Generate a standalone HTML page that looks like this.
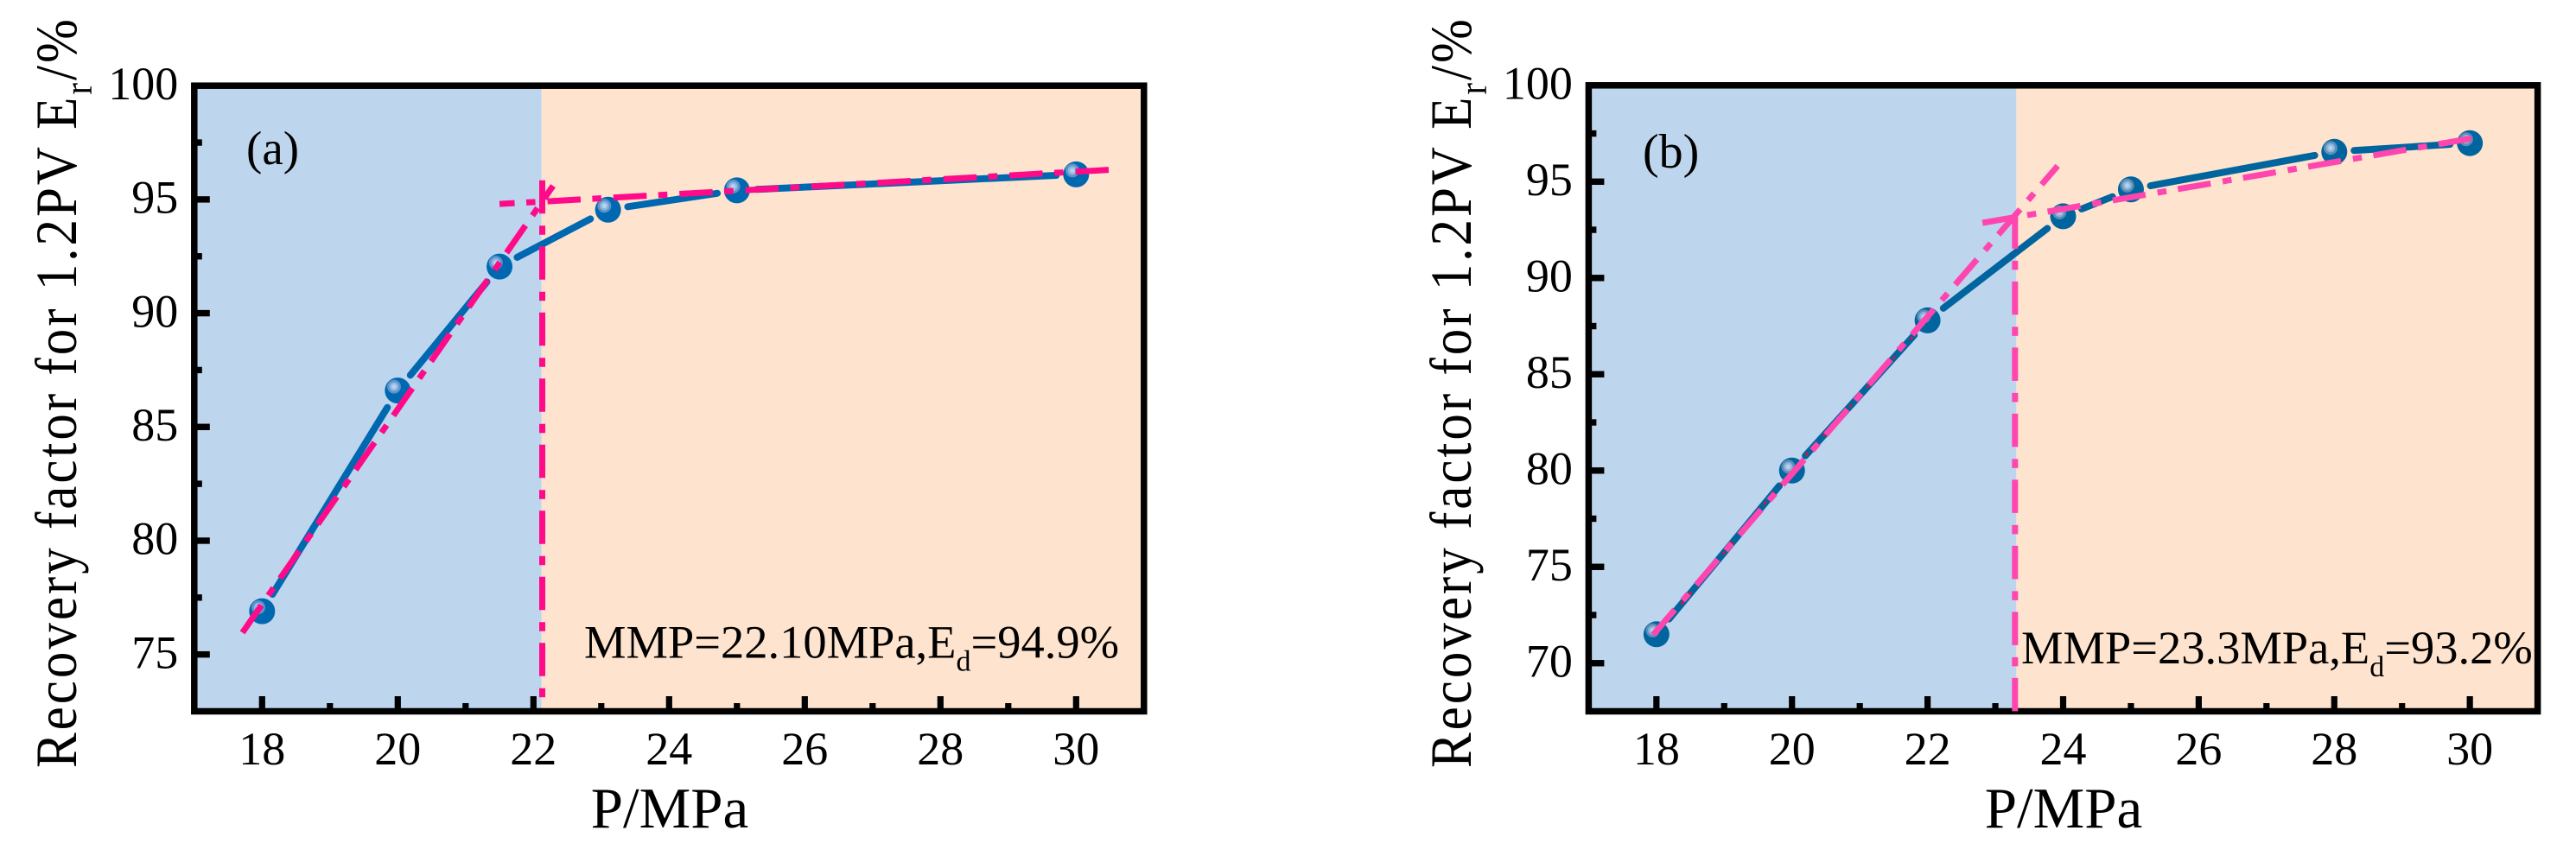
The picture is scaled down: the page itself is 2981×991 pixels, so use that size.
<!DOCTYPE html>
<html lang="en">
<head>
<meta charset="utf-8">
<title>Recovery factor vs pressure</title>
<style>
html,body{margin:0;padding:0;background:#fff;}
svg{display:block;}
text{font-family:"Liberation Serif","Times New Roman",serif;fill:#000;}
</style>
</head>
<body>
<svg id="figure" xmlns="http://www.w3.org/2000/svg" width="2981" height="991" viewBox="0 0 2981 991">
  <g id="panel-a"></g>
  <g id="panel-b"></g>

  <text transform="translate(88,889) rotate(-90) scale(1,1.115)" font-size="61" letter-spacing="3">Recovery factor for 1.2PV E<tspan font-size="41" dy="16">r</tspan><tspan dy="-16">/%</tspan></text>
  <text x="775" y="958" font-size="67" text-anchor="middle">P/MPa</text>
  <text x="285" y="190" font-size="55">(a)</text>
  <text x="676" y="761.5" font-size="54.5">MMP=22.10MPa,E<tspan font-size="34" dy="15">d</tspan><tspan dy="-15">=94.9%</tspan></text>

  <text transform="translate(1702,889) rotate(-90) scale(1,1.115)" font-size="61" letter-spacing="3">Recovery factor for 1.2PV E<tspan font-size="41" dy="16">r</tspan><tspan dy="-16">/%</tspan></text>
  <text x="2388" y="958" font-size="67" text-anchor="middle">P/MPa</text>
  <text x="1901" y="194" font-size="56">(b)</text>
  <text x="2339" y="768" font-size="54.5">MMP=23.3MPa,E<tspan font-size="34" dy="15">d</tspan><tspan dy="-15">=93.2%</tspan></text>
</svg>

<script>
// ---- Chart data ----
const xTickLabels = [18, 20, 22, 24, 26, 28, 30];
const xMinorTicks = [19, 21, 23, 25, 27, 29];

const yTickLabelsA = [75, 80, 85, 90, 95, 100];
const yMinorTicksA = [77.5, 82.5, 87.5, 92.5, 97.5];
const pressureA = [18, 20, 21.5, 23.1, 25, 30];
const recoveryA = [76.9, 86.6, 92.05, 94.55, 95.4, 96.1];
const steepFitXA = [17.71, 22.29];
const steepFitYA = [75.96, 95.6];
const flatFitXA = [30.48, 21.5];
const flatFitYA = [96.3, 94.8];
const mmpLineXA = [22.13, 22.13];
const mmpLineYA = [95.84, 73.05];
const regionSplitA = 22.12;

const yTickLabelsB = [70, 75, 80, 85, 90, 95, 100];
const yMinorTicksB = [72.5, 77.5, 82.5, 87.5, 92.5, 97.5];
const pressureB = [18, 20, 22, 24, 25, 28, 30];
const recoveryB = [71.5, 80, 87.8, 93.2, 94.6, 96.55, 97];
const steepFitXB = [17.95, 23.92];
const steepFitYB = [71.47, 95.82];
const flatFitXB = [22.81, 30.02];
const flatFitYB = [92.86, 97.24];
const mmpLineXB = [23.29, 23.29];
const mmpLineYB = [93.25, 67.43];
const regionSplitB = 23.31;

// ---- Rendering ----
const NS = 'http://www.w3.org/2000/svg';
function mk(tag, attrs, parent) {
  const el = document.createElementNS(NS, tag);
  for (const k in attrs) el.setAttribute(k, attrs[k]);
  parent.appendChild(el);
  return el;
}
function scale(d0, d1, r0, r1) {
  return function (v) { return r0 + (v - d0) * (r1 - r0) / (d1 - d0); };
}
const DASH = '38.5 14 10.5 13.5';

function drawPanel(p) {
  const g = document.getElementById(p.id);
  const X = scale(17, 31, p.left, p.right);
  const Y = scale(p.yMin, 100, 823.5, p.top);
  const splitX = X(p.split);

  const left = mk('rect', {x: p.left, y: p.top, width: splitX - p.left, height: 823.5 - p.top, fill: '#BED5EE'}, g);
  
  
  const right = mk('rect', {x: splitX, y: p.top, width: p.right - splitX, height: 823.5 - p.top, fill: '#FEE4CE'}, g);
  
  

  xTickLabels.forEach(function (t) {
    const tick = mk('rect', {x: X(t) - 3.6, y: 806, width: 7.2, height: 16, fill: '#000'}, g);
    
    
    const lab = mk('text', {x: X(t), y: 885, 'font-size': 54, 'text-anchor': 'middle'}, g);
    lab.textContent = t;
    
    
  });
  xMinorTicks.forEach(function (t) {
    const tick = mk('rect', {x: X(t) - 3.6, y: 814, width: 7.2, height: 8, fill: '#000'}, g);
    
    
  });
  p.yTicks.forEach(function (t) {
    if (t < 100) {
      const tick = mk('rect', {x: p.left, y: Y(t) - 3.7, width: 18, height: 7.4, fill: '#000'}, g);
      
      
    }
    const lab = mk('text', {x: p.left - 18.5, y: Y(t) + 15.7, 'font-size': 54, 'text-anchor': 'end'}, g);
    lab.textContent = t;
    
    
  });
  p.yMinor.forEach(function (t) {
    const tick = mk('rect', {x: p.left, y: Y(t) - 3.7, width: 9, height: 7.4, fill: '#000'}, g);
    
    
  });

  const frame = mk('rect', {x: p.left, y: p.top, width: p.right - p.left, height: 823.5 - p.top, fill: 'none', stroke: '#000', 'stroke-width': 7.5}, g);
  
  

  // Blue connecting line, broken around each marker
  const GAP = 23;
  for (let i = 0; i < p.px.length - 1; i++) {
    const x1 = X(p.px[i]), y1 = Y(p.ry[i]), x2 = X(p.px[i + 1]), y2 = Y(p.ry[i + 1]);
    const len = Math.hypot(x2 - x1, y2 - y1);
    const ux = (x2 - x1) / len, uy = (y2 - y1) / len;
    const seg = mk('line', {x1: x1 + ux * GAP, y1: y1 + uy * GAP, x2: x2 - ux * GAP, y2: y2 - uy * GAP, stroke: p.blue, 'stroke-width': 8, 'stroke-linecap': 'round'}, g);
    
    
  }
  if (p.redDots) {
    const n = 3;
    const pts = p.px.slice(0, n).map(function (v, i) { return X(v) + ',' + Y(p.ry[i]); }).join(' ');
    const red = mk('polyline', {points: pts, fill: 'none', stroke: '#E8102A', 'stroke-width': 2.5, 'stroke-dasharray': '4 11'}, g);
    
    
  }

  // Markers
  p.px.forEach(function (v, i) {
    const cx = X(v), cy = Y(p.ry[i]);
    const m = mk('g', {}, g);
    
    
    mk('circle', {cx: cx, cy: cy, r: 15, fill: p.blue}, m);
    mk('circle', {cx: cx - 4.3, cy: cy - 4.5, r: 8, fill: p.ring1}, m);
    mk('circle', {cx: cx - 4.3, cy: cy - 4.5, r: 5.3, fill: p.ring2}, m);
    mk('circle', {cx: cx - 4.3, cy: cy - 4.5, r: 2.8, fill: p.ring3}, m);
  });

  // Pink dash-dot fitted lines
  function pink(xs, ys, name) {
    const l = mk('line', {x1: X(xs[0]), y1: Y(ys[0]), x2: X(xs[1]), y2: Y(ys[1]), stroke: p.pink, 'stroke-width': 7, 'stroke-dasharray': DASH}, g);
    
    
  }
  pink(p.steepX, p.steepY, 'low-pressure-fit-line');
  pink(p.flatX, p.flatY, 'high-pressure-fit-line');
  pink(p.mmpX, p.mmpY, 'mmp-vertical-line');
}

drawPanel({
  id: 'panel-a', left: 224.8, right: 1323.8, top: 99.2, yMin: 72.5, split: regionSplitA,
  yTicks: yTickLabelsA, yMinor: yMinorTicksA, px: pressureA, ry: recoveryA,
  steepX: steepFitXA, steepY: steepFitYA, flatX: flatFitXA, flatY: flatFitYA,
  mmpX: mmpLineXA, mmpY: mmpLineYA,
  blue: '#0068B1', pink: '#FF0A88', ring1: '#5C94CA', ring2: '#8DB6DE', ring3: '#B6D1EE', redDots: false
});
drawPanel({
  id: 'panel-b', left: 1838.4, right: 2936.6, top: 98.8, yMin: 67.5, split: regionSplitB,
  yTicks: yTickLabelsB, yMinor: yMinorTicksB, px: pressureB, ry: recoveryB,
  steepX: steepFitXB, steepY: steepFitYB, flatX: flatFitXB, flatY: flatFitYB,
  mmpX: mmpLineXB, mmpY: mmpLineYB,
  blue: '#00659E', pink: '#FF45AE', ring1: '#5A8FB9', ring2: '#8FB3D6', ring3: '#B5CFEC', redDots: true
});
</script>
</body>
</html>
